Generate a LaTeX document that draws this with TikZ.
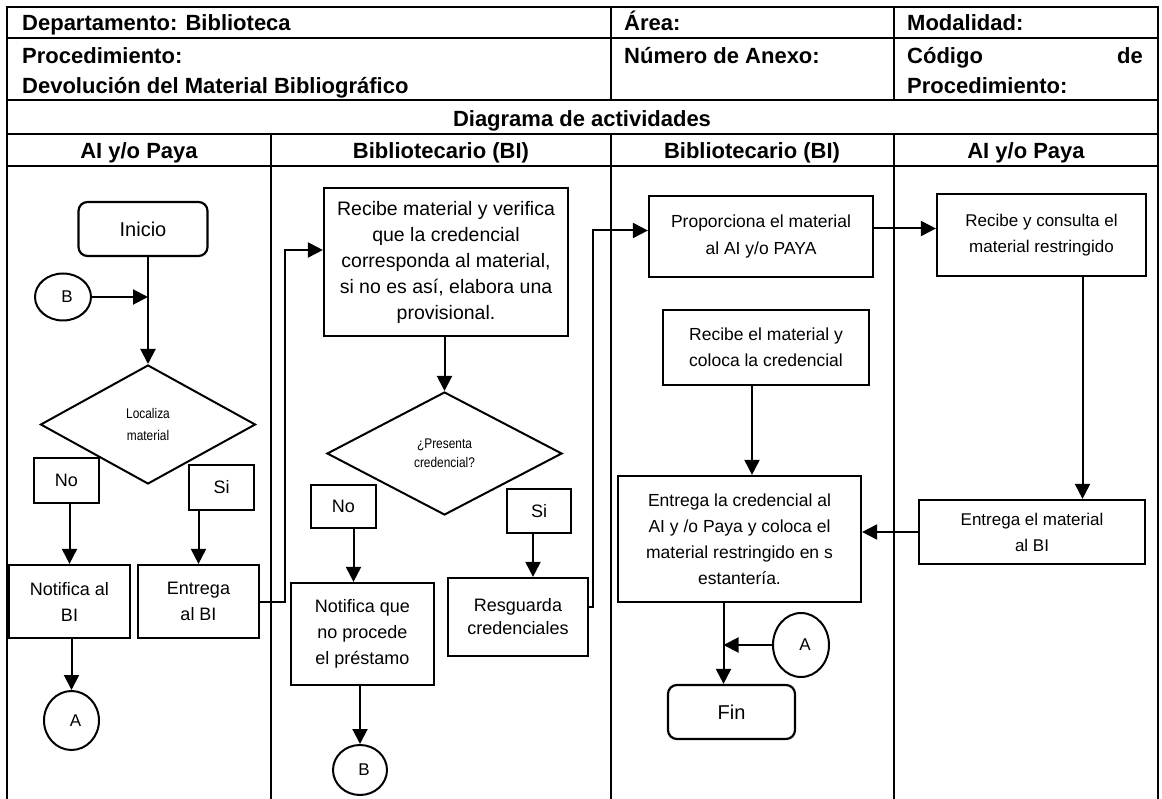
\documentclass[tikz,border=0pt]{standalone}
\usepackage{fontspec}
\setmainfont{Liberation Sans}
\newfontfamily\narrowsans[FakeStretch=0.85]{Liberation Sans}
\usetikzlibrary{shapes.geometric,arrows.meta}
\begin{document}
\begin{tikzpicture}[x=1pt,y=-1pt,
  tbl/.style={line width=2pt},
  hdr/.style={inner sep=0pt, font=\fontsize{22}{26}\selectfont\bfseries},
  stepbox/.style={draw, line width=2.2pt, inner sep=2pt, align=center, font=\fontsize{18}{26}\selectfont},
  term/.style={stepbox, rounded corners=9pt, font=\fontsize{20}{26}\selectfont},
  choice/.style={draw, diamond, line width=2pt, inner sep=0pt, align=center},
  conn/.style={draw, ellipse, line width=2pt, inner sep=0pt, font=\fontsize{17}{20}\selectfont},
  arr/.style={line width=2pt, -{Triangle[length=15pt,width=15pt]}},
]
\useasboundingbox (0,0) rectangle (1162,799);
\fill[white] (0,0) rectangle (1162,799);

% ---- form grid ----
\draw[tbl] (7,799) -- (7,7) -- (1158,7) -- (1158,799);
\foreach \yy in {38,100,134,166} \draw[tbl] (7,\yy) -- (1158,\yy);
\foreach \xx in {611,894} {
  \draw[tbl] (\xx,7) -- (\xx,100);
  \draw[tbl] (\xx,134) -- (\xx,799);
}
\draw[tbl] (271,134) -- (271,799);

% ---- header texts ----
\node[hdr, anchor=base west] (dep)   at (22,31)  {Departamento: Biblioteca};
\node[hdr, anchor=base west] (area)  at (624,31) {Área:};
\node[hdr, anchor=base west] (moda)  at (907,31) {Modalidad:};
\node[hdr, anchor=base west] (proc)  at (22,64)  {Procedimiento:};
\node[hdr, anchor=base west] (devo)  at (22,94)  {Devolución del Material Bibliográfico};
\node[hdr, anchor=base west] (anexo) at (624,64) {Número de Anexo:};
\node[hdr, anchor=base west] (cod)   at (907,64) {Código};
\node[hdr, anchor=base east] (codde) at (1143,64) {de};
\node[hdr, anchor=base west] (codp)  at (907,94) {Procedimiento:};
\node[hdr, anchor=base] (diag) at (582,127) {Diagrama de actividades};
\node[hdr, anchor=base] (lane1) at (139,159)  {AI y/o Paya};
\node[hdr, anchor=base] (lane2) at (441,159)  {Bibliotecario (BI)};
\node[hdr, anchor=base] (lane3) at (752,159)  {Bibliotecario (BI)};
\node[hdr, anchor=base] (lane4) at (1026,159) {AI y/o Paya};

% ---- lane 1 ----
\node[term, minimum width=129pt, minimum height=54pt] (inicio) at (143,229) {Inicio};
\node[conn, minimum width=56pt, minimum height=47pt] (b1) at (63,297) {\hspace*{8pt}B};
\node[choice, minimum width=215pt, minimum height=119pt,
      font=\narrowsans\fontsize{14}{22}\selectfont] (dec1) at (148,424.5) {Localiza\\material};
\node[stepbox, minimum width=65pt, minimum height=45pt] (no1) at (66.5,480.5) {No};
\node[stepbox, minimum width=65pt, minimum height=45pt] (si1) at (221.5,487.5) {Si};
\node[stepbox, minimum width=121pt, minimum height=73pt] (not1) at (69.5,601.5) {Notifica al\\BI};
\node[stepbox, minimum width=121pt, minimum height=73pt] (ent1) at (198.5,601.5) {Entrega\\al BI};
\node[conn, minimum width=55pt, minimum height=59pt] (a1) at (71.5,720.5) {\hspace*{8pt}A};

% ---- lane 2 ----
\node[stepbox, minimum width=244pt, minimum height=148pt,
      font=\fontsize{19.5}{26}\selectfont] (rec) at (446,262)
  {Recibe material y verifica\\que la credencial\\corresponda al material,\\si no es así, elabora una\\provisional.};
\node[choice, minimum width=235pt, minimum height=123pt,
      font=\narrowsans\fontsize{14}{19}\selectfont] (dec2) at (444.5,453.5) {¿Presenta\\credencial?};
\node[stepbox, minimum width=65pt, minimum height=43pt] (no2) at (343.5,506.5) {No};
\node[stepbox, minimum width=64pt, minimum height=44pt] (si2) at (539,511) {Si};
\node[stepbox, minimum width=143pt, minimum height=102pt] (notq) at (362.5,634) {Notifica que\\no procede\\el préstamo};
\node[stepbox, minimum width=140pt, minimum height=78pt, font=\fontsize{18}{23}\selectfont] (resg) at (518,617) {Resguarda\\credenciales};
\node[conn, minimum width=54pt, minimum height=50pt] (b2) at (360,770) {\hspace*{8pt}B};

% ---- lane 3 ----
\node[stepbox, minimum width=224pt, minimum height=81pt, font=\fontsize{17.5}{27}\selectfont] (prop) at (761,236.5) {Proporciona el material\\al AI y/o PAYA};
\node[stepbox, minimum width=206pt, minimum height=75pt, font=\fontsize{17.5}{26}\selectfont] (recel) at (766,347.5) {Recibe el material y\\coloca la credencial};
\node[stepbox, minimum width=243pt, minimum height=126pt, font=\fontsize{17.5}{26}\selectfont] (entcred) at (739.5,539)
  {Entrega la credencial al\\AI y /o Paya y coloca el\\material restringido en s\\estantería.};
\node[conn, minimum width=56pt, minimum height=64pt] (a2) at (801,645) {\hspace*{8pt}A};
\node[term, minimum width=127pt, minimum height=54pt] (fin) at (731.5,712) {Fin};

% ---- lane 4 ----
\node[stepbox, minimum width=209pt, minimum height=82pt, font=\fontsize{17}{26}\selectfont] (rcons) at (1041.5,235) {Recibe y consulta el\\material restringido};
\node[stepbox, minimum width=226pt, minimum height=64pt, font=\fontsize{17}{26}\selectfont] (entmat) at (1032,532) {Entrega el material\\al BI};

% ---- connectors ----
\draw[arr] (inicio.south -| dec1.north) -- (dec1.north);
\draw[arr] (b1.east) -- (b1.east -| dec1.north);
\draw[arr] (no1.south -| not1.north) -- (not1.north);
\draw[arr] (si1.south -| ent1.north) -- (ent1.north);
\draw[arr] (not1.south -| a1.north) -- (a1.north);
\draw[arr] (ent1.east) -- ++(25,0) |- ([yshift=12pt]rec.west);

\draw[arr] (rec.south -| dec2.north) -- (dec2.north);
\draw[arr] ([xshift=10pt]no2.south) -- ([xshift=10pt]no2.south |- notq.north);
\draw[arr] ([xshift=-6pt]si2.south) -- ([xshift=-6pt]si2.south |- resg.north);
\draw[arr] (notq.south -| b2.north) -- (b2.north);
\draw[arr] ([yshift=10pt]resg.east) -- ++(4,0) |- ([yshift=6pt]prop.west);

\draw[arr] ([yshift=8pt]prop.east) -- ([yshift=8pt]prop.east -| rcons.west);
\draw[arr] ([xshift=41pt]rcons.south) -- ([xshift=41pt]rcons.south |- entmat.north);
\draw[arr] (entmat.west) -- (entmat.west -| entcred.east);
\draw[arr] ([xshift=-14pt]recel.south) -- ([xshift=-14pt]recel.south |- entcred.north);
\coordinate (fx) at ([xshift=-16pt]entcred.south);
\draw[arr] (fx) -- (fx |- fin.north);
\draw[arr] (a2.west) -- (a2.west -| fx);
\end{tikzpicture}
\end{document}
